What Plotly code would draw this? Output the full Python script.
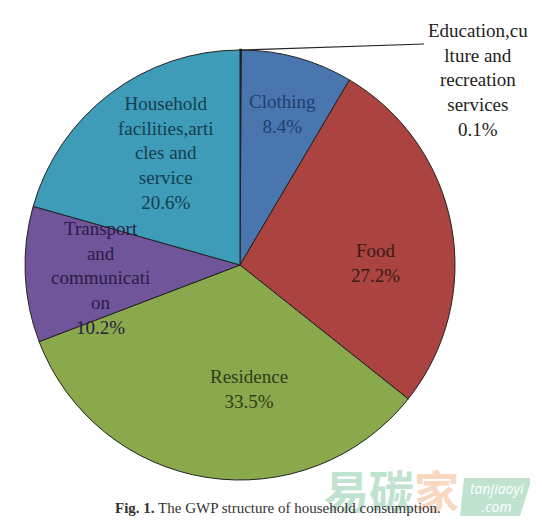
import plotly.graph_objects as go

labels = ["Education,cu<br>lture and<br>recreation<br>services", "Clothing", "Food", "Residence",
          "Transport<br>and<br>communicati<br>on", "Household<br>facilities,arti<br>cles and<br>service"]
values = [0.1, 8.4, 27.2, 33.5, 10.2, 20.6]
colors = ["#111111", "#4a76b0", "#ab4340", "#8aa84c", "#71559a", "#3f9cb8"]
text_colors = ["#222222", "#1f3f6e", "#3a1a18", "#2f3d18", "#2a1c45", "#143f50"]
border_widths = [2.5, 1, 1, 1, 1, 1]
label_text = [l + "<br>" + str(v) + "%" for l, v in zip(labels, values)]
# where each label sits in the picture
label_x = [478, 282, 375, 249, 100, 165]
label_y = [80, 114, 263, 389, 278, 153]

W = 530
H = 519
SERIF = "Liberation Serif"


# the page has an 8px body margin, so picture pixels are shifted by 8
def px(x):
    return (x - 8) / W


def py(y):
    return 1 - (y - 8) / H


def note(x, y, text, font, xanchor="center"):
    return dict(x=px(x), y=py(y), xref="paper", yref="paper", showarrow=False,
                xanchor=xanchor, yanchor="middle", text=text, font=font)


fig = go.Figure(go.Pie(
    labels=labels,
    values=values,
    sort=False,
    direction="clockwise",
    rotation=0,
    marker=dict(colors=colors, line=dict(color="#222222", width=border_widths)),
    textinfo="none",
    domain=dict(x=[px(23), px(457)], y=[py(480), py(50)]),
    showlegend=False,
))

annotations = []
for t, x, y, c in zip(label_text, label_x, label_y, text_colors):
    annotations.append(note(x, y, t, dict(family=SERIF, size=19, color=c)))

# watermark
annotations.append(note(391, 489, '<b><span style="color:#bfe3cf">易碳</span><span style="color:#f9d8c2">家</span></b>',
                        dict(family="Noto Sans CJK SC", size=45)))
annotations.append(note(497, 497, "<i>tanjiaoyi<br>.com</i>",
                        dict(family="Open Sans", size=14, color="white")))
annotations.append(note(113, 508, "<b>Fig. 1.</b> The GWP structure of household consumption.",
                        dict(family=SERIF, size=15, color="#333333"), xanchor="left"))

fig.update_layout(
    width=W, height=H,
    margin=dict(l=0, r=0, t=0, b=0),
    paper_bgcolor="white",
    annotations=annotations,
    shapes=[
        dict(type="line", xref="paper", yref="paper", x0=px(240), y0=py(50), x1=px(424), y1=py(44),
             line=dict(color="#222222", width=1.2)),
        dict(type="path", xref="paper", yref="paper", layer="below", fillcolor="#bfe3cf", line=dict(width=0),
             path=f"M {px(464)} {py(478)} L {px(532)} {py(478)} L {px(520)} {py(516)} L {px(460)} {py(516)} Z"),
    ],
)
fig.write_html("out.html")
